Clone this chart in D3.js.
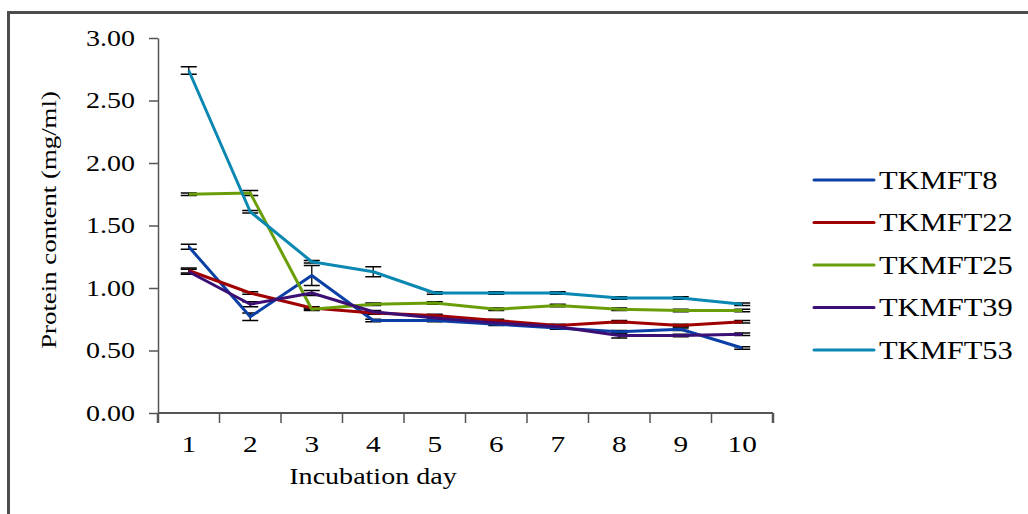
<!DOCTYPE html>
<html>
<head>
<meta charset="utf-8">
<script src="https://cdn.jsdelivr.net/npm/d3@7"></script>
<style>
	body { margin: 0; background: #fff; }
	text { font-family: "Liberation Serif", "Times New Roman", serif; fill: #000; }
</style>
</head>
<body>
<div id="chart"></div>
<script>

// data
let days = ['1','2','3','4','5','6','7','8','9','10']
let yTicks = [0, 0.5, 1, 1.5, 2, 2.5, 3]
let names = ['TKMFT8','TKMFT22','TKMFT25','TKMFT39','TKMFT53']
let colors = ['#0a3fa6','#a00000','#6a9e08','#3c0f74','#0a88b2']

let tkmft8  = [1.33, 0.77, 1.10, 0.74, 0.74, 0.71, 0.68, 0.65, 0.67, 0.52]
let tkmft22 = [1.14, 0.96, 0.84, 0.80, 0.78, 0.74, 0.70, 0.73, 0.70, 0.73]
let tkmft25 = [1.75, 1.76, 0.83, 0.87, 0.88, 0.83, 0.86, 0.83, 0.82, 0.82]
let tkmft39 = [1.13, 0.87, 0.96, 0.81, 0.76, 0.72, 0.69, 0.62, 0.62, 0.63]
let tkmft53 = [2.74, 1.61, 1.21, 1.13, 0.96, 0.96, 0.96, 0.92, 0.92, 0.87]

let err8  = [0.02, 0.03, 0.08, 0.01, 0.01, 0.01, 0.01, 0.01, 0.01, 0.01]
let err22 = [0.02, 0.01, 0.01, 0.01, 0.01, 0.01, 0.01, 0.01, 0.01, 0.01]
let err25 = [0.01, 0.02, 0.01, 0.01, 0.01, 0.01, 0.01, 0.01, 0.01, 0.01]
let err39 = [0.02, 0.02, 0.02, 0.01, 0.01, 0.01, 0.01, 0.02, 0.01, 0.01]
let err53 = [0.03, 0.01, 0.01, 0.04, 0.01, 0.01, 0.01, 0.01, 0.01, 0.01]

let series = [tkmft8, tkmft22, tkmft25, tkmft39, tkmft53]
let errors = [err8, err22, err25, err39, err53]

let width = 1028
let height = 514
let plot = {left:158, right:773, top:38, bottom:413}
let stretch = 1.22	// glyphs in the source are wider than normal

let svg = d3.select('#chart').append('svg')
	.attr('width', width).attr('height', height)

// outer frame (runs off right and bottom)
svg.append('rect')
	.attr('x', 8.5).attr('y', 12.5).attr('width', 1100).attr('height', 600)
	.attr('fill', 'none').attr('stroke', '#4d4d4d').attr('stroke-width', 3)

let x = d3.scaleBand().domain(days).range([plot.left, plot.right])
let y = d3.scaleLinear().domain([0, 3]).range([plot.bottom, plot.top])

// y axis
let yAxis = d3.axisLeft(y).tickValues(yTicks).tickFormat(d3.format('.2f')).tickSize(9).tickSizeOuter(0)
let gy = svg.append('g').attr('transform', `translate(${plot.left},0)`).call(yAxis)
gy.select('.domain').attr('stroke', '#555').attr('stroke-width', 1.5)
gy.selectAll('.tick line').attr('stroke', '#555').attr('stroke-width', 1.5)
gy.selectAll('.tick text')
	.attr('font-size', 23).attr('x', 0).attr('dy', '0.32em')
	.attr('transform', `translate(-23,0) scale(${stretch},1)`)

// x axis, ticks sit between the days
let gx = svg.append('g').attr('transform', `translate(0,${plot.bottom})`)
gx.append('line').attr('x1', plot.left).attr('x2', plot.right)
	.attr('stroke', '#555').attr('stroke-width', 2)
gx.selectAll('.sep').data(d3.range(days.length + 1)).enter().append('line')
	.attr('x1', i => plot.left + i * x.step()).attr('x2', i => plot.left + i * x.step())
	.attr('y1', 0).attr('y2', 10)
	.attr('stroke', '#555').attr('stroke-width', i => (i == 0 || i == days.length) ? 2.5 : 1.5)
gx.selectAll('.lab').data(days).enter().append('text')
	.attr('text-anchor', 'middle').attr('font-size', 24)
	.attr('transform', d => `translate(${x(d) + x.bandwidth()/2},39) scale(${stretch},1)`)
	.text(d => d)

// axis titles
svg.append('text')
	.attr('text-anchor', 'middle').attr('font-size', 22)
	.attr('transform', `translate(56,220) rotate(-90) scale(${stretch},1)`)
	.text('Protein content (mg/ml)')
svg.append('text')
	.attr('text-anchor', 'middle').attr('font-size', 23)
	.attr('transform', `translate(373,484) scale(${stretch},1)`)
	.text('Incubation day')

let cx = d => x(d) + x.bandwidth()/2
let line = d3.line().x((v, i) => cx(days[i])).y(v => y(v))

// error bars
series.forEach((s, k) => {
	let g = svg.append('g')
	let pts = s.map((v, i) => ({day: days[i], v, e: errors[k][i]}))
	g.selectAll('.stem').data(pts).enter().append('line')
		.attr('x1', d => cx(d.day)).attr('x2', d => cx(d.day))
		.attr('y1', d => y(d.v - d.e)).attr('y2', d => y(d.v + d.e))
		.attr('stroke', '#222').attr('stroke-width', 1.5)
	g.selectAll('.cap').data(pts.flatMap(d => [{day: d.day, v: d.v + d.e}, {day: d.day, v: d.v - d.e}])).enter().append('line')
		.attr('x1', d => cx(d.day) - 8).attr('x2', d => cx(d.day) + 8)
		.attr('y1', d => y(d.v)).attr('y2', d => y(d.v))
		.attr('stroke', '#000').attr('stroke-width', 1.5)
})

// series lines
series.forEach((s, k) => {
	svg.append('path').datum(s)
		.attr('d', line)
		.attr('fill', 'none').attr('stroke', colors[k]).attr('stroke-width', 3)
		.attr('stroke-linejoin', 'round')
})

// legend
let legend = svg.append('g')
names.forEach((n, k) => {
	let ly = 180 + k * 42.5
	legend.append('line').attr('x1', 814).attr('x2', 874).attr('y1', ly).attr('y2', ly)
		.attr('stroke', colors[k]).attr('stroke-width', 3).attr('stroke-linecap', 'round')
	legend.append('text').attr('font-size', 25).attr('dy', '0.35em')
		.attr('transform', `translate(879,${ly}) scale(${stretch},1)`)
		.text(n)
})

</script>
</body>
</html>
